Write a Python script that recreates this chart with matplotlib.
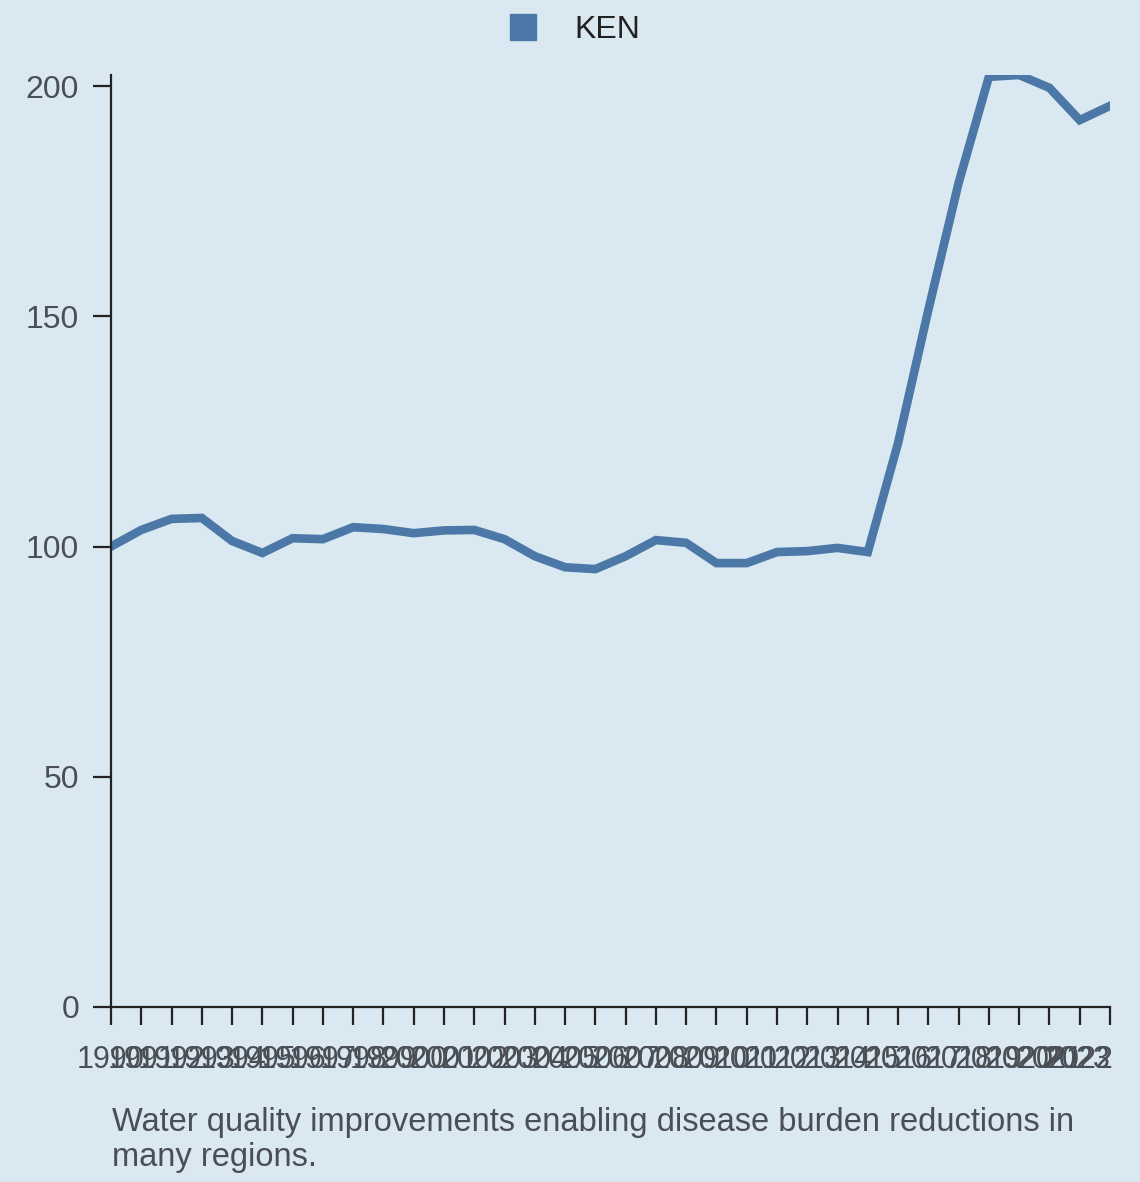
import matplotlib
matplotlib.use("Agg")
import matplotlib.pyplot as plt
from matplotlib.lines import Line2D

years = list(range(1990, 2024))
ken = [100.0, 103.6, 106.0, 106.2, 101.2, 98.6, 101.8, 101.6, 104.2, 103.8,
       102.9, 103.5, 103.6, 101.6, 97.9, 95.5, 95.1, 97.9, 101.4, 100.8,
       96.4, 96.4, 98.8, 99.0, 99.7, 98.8, 122.5, 151.4, 179.0, 202.0,
       202.4, 199.6, 192.6, 195.7]
yticks = [0, 50, 100, 150, 200]
series_name = "KEN"
caption = "Water quality improvements enabling disease burden reductions in\nmany regions."

bg = "#dae8f1"
line_color = "#4c78a8"
plt.rcParams['font.family'] = ['Liberation Sans', 'DejaVu Sans']

fig = plt.figure(figsize=(11.4, 11.82), dpi=100, facecolor=bg)
ax = fig.add_axes([111/1140, 1-1007/1182, (1110-111)/1140, (1007-75)/1182])
ax.set_facecolor(bg)
ax.plot(years, ken, color=line_color, linewidth=6.2, solid_joinstyle='miter')
ax.set_xlim(years[0], years[-1])
ax.set_ylim(0, 202.4)
ax.set_xticks(years)
ax.set_xticklabels([str(y) for y in years])
ax.set_yticks(yticks)
for s in ['top', 'right']:
    ax.spines[s].set_visible(False)
for s in ['left', 'bottom']:
    ax.spines[s].set_color('#222222')
    ax.spines[s].set_linewidth(1.6)
ax.tick_params(axis='both', colors='#222222', length=13, width=1.6, labelsize=23,
               labelcolor='#4a4f55', pad=10)
ax.tick_params(axis='x', pad=14, labelsize=22)
xlabels = ax.get_xticklabels()
xlabels[-1].set_horizontalalignment('right')

handle = Line2D([], [], linestyle='none', marker='s', markersize=19,
                markerfacecolor=line_color, markeredgecolor=line_color)
fig.legend([handle], [series_name], loc='center', bbox_to_anchor=(0.4965, 1-30/1182),
           frameon=False, fontsize=23, handletextpad=0.6, labelcolor='#222222')

fig.text(112/1140, 1-1140/1182, caption, fontsize=23.5, color='#4a4f55',
         va='center', ha='left', linespacing=1.15)

fig.savefig("out.png", dpi=100, facecolor=bg)
